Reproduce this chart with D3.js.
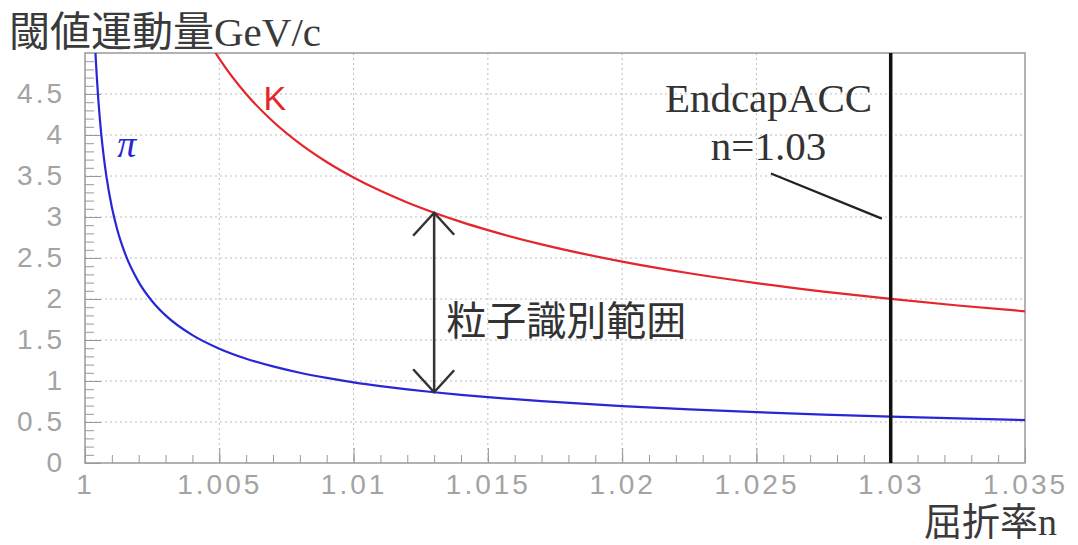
<!DOCTYPE html>
<html>
<head>
<meta charset="utf-8">
<script src="https://cdn.jsdelivr.net/npm/d3@7"></script>
<style>
  body { margin: 0; background: #fff; }
  svg { display: block; }
</style>
</head>
<body>
<div id="chart"></div>
<script>
// refractive index values and threshold momentum (GeV/c)
var nPi = [1.00035, 1.0004, 1.0005, 1.0006, 1.0007, 1.0008, 1.001, 1.0012, 1.0015, 1.002, 1.0025, 1.003,
           1.004, 1.005, 1.006, 1.007, 1.008, 1.009, 1.01, 1.011, 1.012, 1.013, 1.014, 1.015, 1.017,
           1.02, 1.0225, 1.025, 1.0275, 1.03, 1.0325, 1.035];
var pPi = [5.275, 4.934, 4.413, 4.028, 3.730, 3.489, 3.120, 2.848, 2.547, 2.206, 1.973, 1.800,
           1.559, 1.394, 1.272, 1.178, 1.101, 1.038, 0.984, 0.938, 0.898, 0.863, 0.831, 0.803, 0.754,
           0.694, 0.654, 0.620, 0.591, 0.566, 0.543, 0.523];

var nK = [1.0045, 1.005, 1.006, 1.007, 1.008, 1.009, 1.01, 1.011, 1.012, 1.013, 1.014, 1.015,
          1.017, 1.02, 1.0225, 1.025, 1.0275, 1.03, 1.0325, 1.035];
var pK = [5.198, 4.931, 4.500, 4.165, 3.895, 3.671, 3.482, 3.319, 3.177, 3.052, 2.940, 2.840,
          2.666, 2.456, 2.314, 2.194, 2.091, 2.001, 1.921, 1.850];

var xTicks = [1, 1.005, 1.01, 1.015, 1.02, 1.025, 1.03, 1.035];
var xTickLabels = ['1', '1.005', '1.01', '1.015', '1.02', '1.025', '1.03', '1.035'];
var yTicks = [0, 0.5, 1, 1.5, 2, 2.5, 3, 3.5, 4, 4.5];
var yTickLabels = ['0', '0.5', '1', '1.5', '2', '2.5', '3', '3.5', '4', '4.5'];

var endcapN = 1.03;          // aerogel index of the endcap ACC
var arrowN = 1.013;          // where the identification range is marked
var arrowRange = [0.863, 3.052];
var pointer = [[1.02554, 3.53], [1.02967, 2.98]];

var width = 1078, height = 545;
var margin = {top: 53, right: 53, bottom: 82, left: 85};
var innerW = width - margin.left - margin.right,
    innerH = height - margin.top - margin.bottom;

var svg = d3.select('#chart').append('svg')
  .attr('width', width)
  .attr('height', height);

var g = svg.append('g')
  .attr('transform', 'translate(' + margin.left + ',' + margin.top + ')');

var x = d3.scaleLinear().domain([1, 1.035]).range([0, innerW]);
var y = d3.scaleLinear().domain([0, 5]).range([innerH, 0]);

svg.append('defs').append('clipPath').attr('id', 'plot')
  .append('rect').attr('width', innerW).attr('height', innerH);

// dotted grid
g.append('g').selectAll('line')
  .data(xTicks.slice(1, -1))
  .enter().append('line')
  .attr('x1', function(d) { return x(d); })
  .attr('x2', function(d) { return x(d); })
  .attr('y1', 0).attr('y2', innerH)
  .attr('stroke', '#bdbdbd').attr('stroke-dasharray', '2,3');

g.append('g').selectAll('line')
  .data(yTicks.slice(1))
  .enter().append('line')
  .attr('y1', function(d) { return y(d); })
  .attr('y2', function(d) { return y(d); })
  .attr('x1', 0).attr('x2', innerW)
  .attr('stroke', '#bdbdbd').attr('stroke-dasharray', '2,3');

// axes, ticks pointing into the frame
var tickFont = function(sel) {
  sel.selectAll('text')
    .attr('fill', '#a3a3a3')
    .style('font-family', '"Liberation Sans", Arial, sans-serif')
    .style('font-size', '28px')
    .style('letter-spacing', '3px');
  sel.selectAll('line').attr('stroke', '#999');
  sel.select('.domain').remove();
};

g.append('g')
  .attr('transform', 'translate(0,' + innerH + ')')
  .call(d3.axisBottom(x).tickValues(d3.range(0, 36).map(function(i) { return 1 + i * 0.001; }))
    .tickSize(-8).tickFormat(''))
  .call(tickFont);

g.append('g')
  .attr('transform', 'translate(0,' + innerH + ')')
  .call(d3.axisBottom(x).tickValues(xTicks).tickSize(-15).tickPadding(11)
    .tickFormat(function(d, i) { return xTickLabels[i]; }))
  .call(tickFont);

g.append('g')
  .call(d3.axisLeft(y).tickValues(d3.range(0, 50).map(function(i) { return i * 0.1; }))
    .tickSize(-9).tickFormat(''))
  .call(tickFont);

g.append('g')
  .call(d3.axisLeft(y).tickValues(yTicks).tickSize(-16).tickPadding(20)
    .tickFormat(function(d, i) { return yTickLabels[i]; }))
  .call(tickFont);

// frame
g.append('rect')
  .attr('width', innerW).attr('height', innerH)
  .attr('fill', 'none').attr('stroke', '#999').attr('stroke-width', 1.5);

// curves
var line = d3.line()
  .x(function(d) { return x(d[0]); })
  .y(function(d) { return y(d[1]); })
  .curve(d3.curveMonotoneX);

var curves = g.append('g').attr('clip-path', 'url(#plot)');

curves.append('path')
  .datum(d3.zip(nPi, pPi))
  .attr('d', line)
  .attr('fill', 'none').attr('stroke', '#2727d6').attr('stroke-width', 2.2);

curves.append('path')
  .datum(d3.zip(nK, pK))
  .attr('d', line)
  .attr('fill', 'none').attr('stroke', '#e5242c').attr('stroke-width', 2.2);

// endcap ACC index
g.append('line')
  .attr('x1', x(endcapN)).attr('x2', x(endcapN))
  .attr('y1', 0).attr('y2', innerH)
  .attr('stroke', '#111').attr('stroke-width', 3.5);

g.append('line')
  .attr('x1', x(pointer[0][0])).attr('y1', y(pointer[0][1]))
  .attr('x2', x(pointer[1][0])).attr('y2', y(pointer[1][1]))
  .attr('stroke', '#222').attr('stroke-width', 2.2);

var serif = '"Liberation Serif", "Times New Roman", serif';
var jp = '"Noto Sans CJK JP", sans-serif';

g.append('text')
  .attr('x', x(1.02545)).attr('y', 59)
  .attr('text-anchor', 'middle')
  .attr('fill', '#333')
  .style('font-family', serif).style('font-size', '41px')
  .text('EndcapACC');

g.append('text')
  .attr('x', x(1.02545)).attr('y', 107)
  .attr('text-anchor', 'middle')
  .attr('fill', '#333')
  .style('font-family', serif).style('font-size', '41px')
  .text('n=1.03');

// identification range arrow
var ax = x(arrowN), aTop = y(arrowRange[1]), aBot = y(arrowRange[0]);
var arrow = g.append('g').attr('stroke', '#333').attr('stroke-width', 2.5).attr('fill', 'none');
arrow.append('line').attr('x1', ax).attr('x2', ax).attr('y1', aTop).attr('y2', aBot);
arrow.append('path').attr('d', 'M' + (ax - 21) + ',' + (aTop + 23) + 'L' + ax + ',' + aTop + 'L' + (ax + 20) + ',' + (aTop + 22));
arrow.append('path').attr('d', 'M' + (ax - 21) + ',' + (aBot - 23) + 'L' + ax + ',' + aBot + 'L' + (ax + 20) + ',' + (aBot - 22));

g.append('text')
  .attr('x', ax + 12).attr('y', 282)
  .attr('fill', '#333')
  .style('font-family', jp).style('font-size', '40px')
  .text('粒子識別範囲');

// particle labels
g.append('text')
  .attr('x', x(1.00665)).attr('y', 57)
  .attr('fill', '#e5242c')
  .style('font-family', '"Liberation Sans", Arial, sans-serif').style('font-size', '34px')
  .text('K');

g.append('text')
  .attr('x', x(1.0012)).attr('y', 104)
  .attr('fill', '#2727d6')
  .style('font-family', serif).style('font-style', 'italic').style('font-size', '38px')
  .text('π');

// axis titles
var title = svg.append('text')
  .attr('x', 9).attr('y', 46)
  .attr('fill', '#3a3a3a')
  .style('font-size', '41px');
title.append('tspan').style('font-family', jp).text('閾値運動量');
title.append('tspan').style('font-family', serif).text('GeV/c');

var xtitle = svg.append('text')
  .attr('x', 1057).attr('y', 535)
  .attr('text-anchor', 'end')
  .attr('fill', '#3a3a3a')
  .style('font-size', '38px');
xtitle.append('tspan').style('font-family', jp).text('屈折率');
xtitle.append('tspan').style('font-family', serif).text('n');
</script>
</body>
</html>
